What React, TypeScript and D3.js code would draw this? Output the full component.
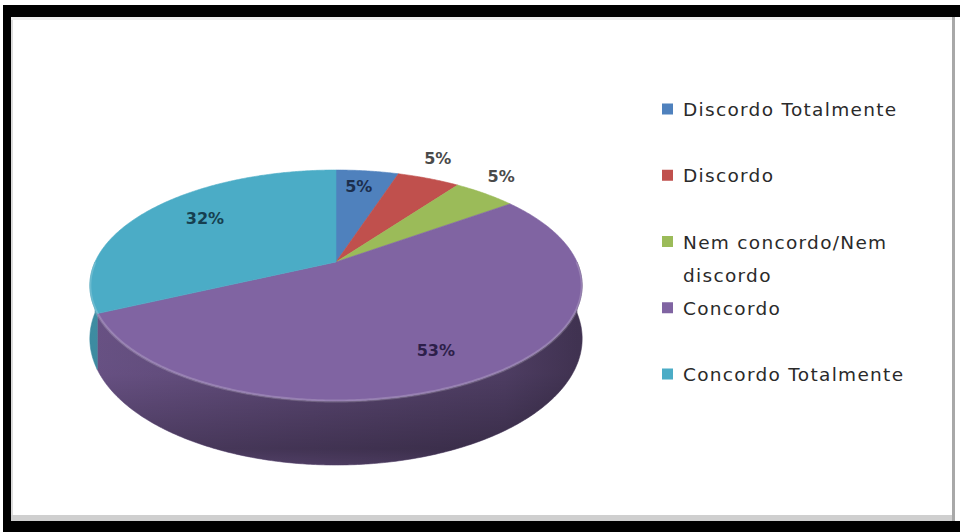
import React from 'react';
import * as d3 from 'd3';

const categories = [
  'Discordo Totalmente',
  'Discordo',
  'Nem concordo/Nem discordo',
  'Concordo',
  'Concordo Totalmente',
];
const values = [5, 5, 5, 53, 32];
const legendLines = [
  ['Discordo Totalmente'],
  ['Discordo'],
  ['Nem concordo/Nem', 'discordo'],
  ['Concordo'],
  ['Concordo Totalmente'],
];
const colors = ['#4F81BD', '#C0504D', '#9BBB59', '#8064A2', '#4BACC6'];
const labelColors = ['#1c2e4d', '#4a4a4a', '#4a4a4a', '#2d1f4a', '#163f50'];
const labelInside = [true, false, false, true, true];

const W = 960;
const H = 532;
const cx = 336;
const cy = 262;
const rx = 241;
const ry = 110.7;
const persp = 0.2035;
const depth = 51;

function proj(a: number, rX = 1, rS = 1, h = 0): [number, number] {
  const X = rX * Math.sin(a);
  const S = -rS * Math.cos(a);
  const w = 1 - persp * S;
  return [cx + (rx * X) / w, cy + (ry * S + h) / w];
}

function rimPoints(a0: number, a1: number, h = 0): [number, number][] {
  const n = Math.max(2, Math.ceil(((a1 - a0) * 180) / Math.PI / 0.5));
  const pts: [number, number][] = [];
  for (let i = 0; i <= n; i++) pts.push(proj(a0 + ((a1 - a0) * i) / n, 1, 1, h));
  return pts;
}

const line = d3.line();

export default function App() {
  const pie = d3.pie<number>().sort(null).startAngle(0).endAngle(2 * Math.PI).value((d) => d);
  const arcs = pie(values);
  const total = d3.sum(values);

  const sides = arcs
    .map((a, i) => {
      const lo = Math.max(a.startAngle, Math.PI / 2);
      const hi = Math.min(a.endAngle, (3 * Math.PI) / 2);
      if (hi <= lo) return null;
      const top = rimPoints(lo, hi, 0);
      const bot = rimPoints(lo, hi, depth).reverse();
      return { i, d: line([...top, ...bot])! + 'Z' };
    })
    .filter(Boolean) as { i: number; d: string }[];

  const frontTop = rimPoints(Math.PI / 2, (3 * Math.PI) / 2, 0);
  const frontBot = rimPoints(Math.PI / 2, (3 * Math.PI) / 2, depth).reverse();
  const sideAll = line([...frontTop, ...frontBot])! + 'Z';

  const tops = arcs.map((a, i) => {
    const pts = [[cx, cy] as [number, number], ...rimPoints(a.startAngle, a.endAngle, 0)];
    return { i, d: line(pts)! + 'Z' };
  });

  const labels = arcs.map((a, i) => {
    const mid = (a.startAngle + a.endAngle) / 2;
    const [x, y] = labelInside[i] ? proj(mid, 0.7, 0.8) : proj(mid, 1.15, 1.3);
    return { i, x, y, text: `${Math.round((values[i] / total) * 100)}%` };
  });

  const legendY = d3.scaleLinear().domain([0, categories.length - 1]).range([109, 374]);

  return (
    <svg
      width={W}
      height={H}
      style={{ position: 'absolute', left: 0, top: 0, display: 'block' }}
      xmlns="http://www.w3.org/2000/svg"
    >
      <defs>
        {colors.map((c, i) => {
          const base = d3.color(c)!;
          return (
            <linearGradient
              key={i}
              id={`side${i}`}
              gradientUnits="userSpaceOnUse"
              x1={cx - rx}
              y1={0}
              x2={cx + rx}
              y2={0}
            >
              <stop offset="0" stopColor={base.darker(0.55).formatHex()} />
              <stop offset="0.45" stopColor={base.darker(0.95).formatHex()} />
              <stop offset="0.85" stopColor={base.darker(1.35).formatHex()} />
              <stop offset="1" stopColor={base.darker(1.9).formatHex()} />
            </linearGradient>
          );
        })}
        <linearGradient id="sideShade" gradientUnits="userSpaceOnUse" x1={0} y1={cy} x2={0} y2={cy + ry / (1 - persp) + depth / (1 - persp)}>
          <stop offset="0" stopColor="#000" stopOpacity="0" />
          <stop offset="0.55" stopColor="#000" stopOpacity="0.02" />
          <stop offset="0.92" stopColor="#000" stopOpacity="0.28" />
          <stop offset="1" stopColor="#000" stopOpacity="0.15" />
        </linearGradient>
      </defs>

      <rect x={0} y={0} width={W} height={H} fill="#ffffff" />
      {/* frame */}
      <rect x={11} y={17} width={942} height={504} fill="#ffffff" />
      <rect x={11} y={17} width={2} height={504} fill="#dcdcdc" />
      <rect x={11} y={17} width={942} height={3} fill="#eeeeee" />
      <rect x={11} y={515} width={944} height={6} fill="#cfcfcf" />
      <rect x={952} y={17} width={3} height={504} fill="#a8a8a8" />
      <rect x={3} y={5} width={8} height={527} fill="#000" />
      <rect x={3} y={5} width={957} height={12} fill="#000" />
      <rect x={3} y={521} width={957} height={11} fill="#000" />

      {/* pie sides */}
      {sides.map((s) => (
        <path key={`s${s.i}`} d={s.d} fill={`url(#side${s.i})`} stroke={`url(#side${s.i})`} strokeWidth={0.6} />
      ))}
      <path d={sideAll} fill="url(#sideShade)" />

      {/* pie tops */}
      {tops.map((t) => (
        <path key={`t${t.i}`} d={t.d} fill={colors[t.i]} stroke={colors[t.i]} strokeWidth={0.6} />
      ))}
      <path d={line(frontTop)!} fill="none" stroke="#ffffff" strokeOpacity={0.18} strokeWidth={3} />

      {/* labels */}
      {labels.map((l) => (
        <text
          key={`l${l.i}`}
          x={l.x}
          y={l.y}
          dy="0.36em"
          textAnchor="middle"
          fontFamily="DejaVu Sans, sans-serif"
          fontWeight="bold"
          fontSize={16}
          fill={labelColors[l.i]}
        >
          {l.text}
        </text>
      ))}

      {/* legend */}
      {categories.map((c, i) => {
        const y = legendY(i);
        return (
          <g key={`g${i}`}>
            <rect x={662} y={y - 5.5} width={11} height={11} fill={colors[i]} />
            {legendLines[i].map((ln, j) => (
              <text
                key={j}
                x={683}
                y={y + 7 + j * 33}
                fontFamily="DejaVu Sans, sans-serif"
                fontSize={18.5}
                letterSpacing={1.3}
                fill="#2a2a2a"
              >
                {ln}
              </text>
            ))}
          </g>
        );
      })}
    </svg>
  );
}
